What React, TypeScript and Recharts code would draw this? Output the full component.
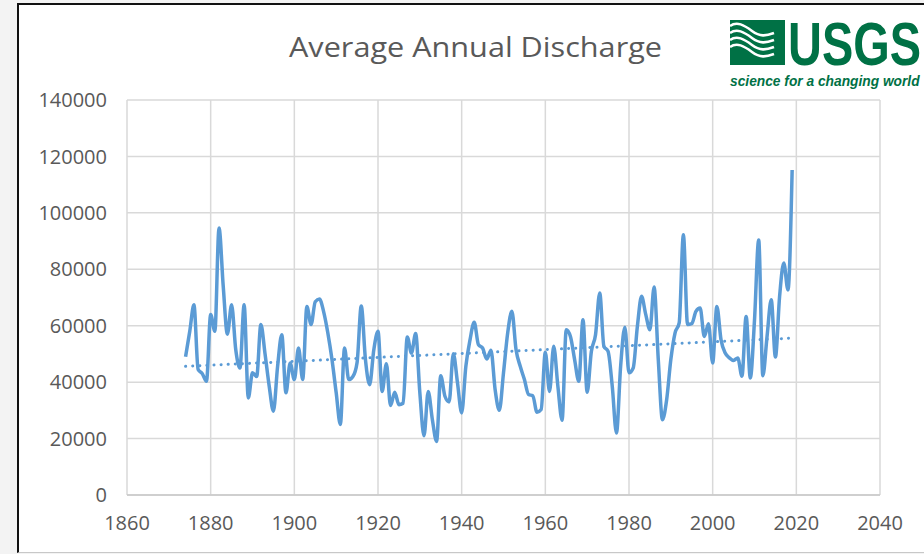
import { LineChart, Line, XAxis, YAxis, CartesianGrid } from 'recharts'

const firstYear = 1874

// average annual discharge, one value per year from 1874 to 2019
const discharge = [
  49000, 58000, 67400, 44500, 43000, 40300,
  64000, 58000, 94600, 74000, 57000, 67400, 51500, 45000, 67400, 34400,
  43300, 42000, 60400, 50000, 38500, 29700, 45600, 56800, 36200, 46800,
  40900, 52100, 40900, 66800, 60400, 68500, 69500, 65000, 57500, 48000,
  36300, 25000, 52100, 40900, 42000, 47000, 67000, 48000, 39100, 51500,
  58000, 36700, 46500, 31700, 36400, 32000, 32500, 56000, 50300, 57200,
  36300, 21000, 36700, 26700, 19000, 42300, 35000, 33000, 50100, 39800,
  29100, 45600, 55000, 61200, 53300, 52100, 48200, 51300, 37300, 30000,
  43300, 57400, 65100, 51500, 45600, 40900, 35600, 35200, 29300, 30300,
  50600, 36700, 52700, 38500, 26500, 58600, 56200, 48000, 40300, 62100,
  36400, 50900, 56800, 71600, 52700, 50900, 38500, 22000, 45600, 59500,
  43300, 45000, 59700, 70400, 64000, 58600, 73700, 48000, 26700, 33800,
  48000, 57400, 61000, 92200, 60400, 60700, 65100, 66300, 56200, 60700,
  46800, 66800, 55000, 50300, 48600, 47700, 48600, 42100, 63300, 41500,
  62000, 90400, 42300, 56200, 69200, 48900, 70400, 82200, 72700, 115200,
]

// linear trendline ends
const trendYears = [1874, 2019]
const trendValues = [45600, 55600]

const xTicks = [1860, 1880, 1900, 1920, 1940, 1960, 1980, 2000, 2020, 2040]
const yTicks = [0, 20000, 40000, 60000, 80000, 100000, 120000, 140000]

const data = discharge.map((v, i) => ({ year: firstYear + i, flow: v }))
const trend = trendYears.map((y, i) => ({ year: y, trend: trendValues[i] }))

const blue = '#5b9bd5'
const gray = '#595959'
const green = '#007145'
const font = '"Open Sans", Lato, sans-serif'
const logoFont = '"Liberation Sans", Arial, sans-serif'

function Overlay() {
  return (
    <svg width={924} height={554} style={{ position: 'absolute', left: 0, top: 0, pointerEvents: 'none' }}>
      <text
        x={289}
        y={57}
        fontSize={28}
        fill={gray}
        textLength={373}
        lengthAdjust="spacingAndGlyphs"
        style={{ fontFamily: font }}
      >
        Average Annual Discharge
      </text>
      <rect x={730} y={20} width={55} height={45} fill={green} />
      {[26, 33, 40, 47].map(y => (
        <path
          key={y}
          d={`M730,${y} C737,${y - 5} 744,${y - 1} 752,${y + 5} S766,${y + 10} 774,${y + 7}`}
          stroke="#fff"
          strokeWidth={2.6}
          fill="none"
        />
      ))}
      {/* condensed logo lettering: natural width squeezed with a horizontal scale */}
      <g transform="translate(788 65) scale(0.76 1)">
        <text
          x={0}
          y={0}
          fontSize={62}
          fontWeight={700}
          fill={green}
          textLength={175}
          lengthAdjust="spacingAndGlyphs"
          style={{ fontFamily: logoFont }}
        >
          USGS
        </text>
      </g>
      <g transform="translate(730 86) scale(0.8 1)">
        <text
          x={0}
          y={0}
          fontSize={15}
          fontWeight={700}
          fontStyle="italic"
          fill={green}
          textLength={237}
          lengthAdjust="spacingAndGlyphs"
          style={{ fontFamily: logoFont }}
        >
          science for a changing world
        </text>
      </g>
    </svg>
  )
}

export default function App() {
  return (
    <div style={{ position: 'fixed', left: 0, top: 0, width: 924, height: 554, background: '#f3f3f3', overflow: 'hidden' }}>
      <div
        style={{
          position: 'absolute', left: 17, top: 3, width: 920, height: 547,
          background: '#fff', borderLeft: '2px solid #111', borderTop: '2px solid #111', borderBottom: '1px solid #c8c8c8',
        }}
      />
      <div style={{ position: 'absolute', left: 0, top: 0 }}>
        <LineChart width={924} height={554} margin={{ top: 100, right: 44, bottom: 19, left: 27 }}>
          <CartesianGrid stroke="#d9d9d9" strokeWidth={1.5} />
          <XAxis
            type="number"
            dataKey="year"
            domain={[1860, 2040]}
            ticks={xTicks}
            height={40}
            axisLine={{ stroke: '#c8c8c8', strokeWidth: 1.5 }}
            tickLine={false}
            tickSize={8}
            tickMargin={13}
            tick={{ fill: gray, fontSize: 20, fontFamily: font }}
            allowDataOverflow
          />
          <YAxis
            type="number"
            domain={[0, 140000]}
            ticks={yTicks}
            width={100}
            axisLine={false}
            tickLine={false}
            tickSize={8}
            tickMargin={12}
            tick={{ fill: gray, fontSize: 20, fontFamily: font }}
          />
          <Line
            data={trend}
            dataKey="trend"
            type="linear"
            stroke={blue}
            strokeWidth={3}
            strokeDasharray="0.1 7"
            strokeLinecap="round"
            dot={false}
            isAnimationActive={false}
          />
          <Line
            data={data}
            dataKey="flow"
            type="monotone"
            stroke={blue}
            strokeWidth={3.5}
            dot={false}
            isAnimationActive={false}
          />
        </LineChart>
      </div>
      <Overlay />
    </div>
  )
}
